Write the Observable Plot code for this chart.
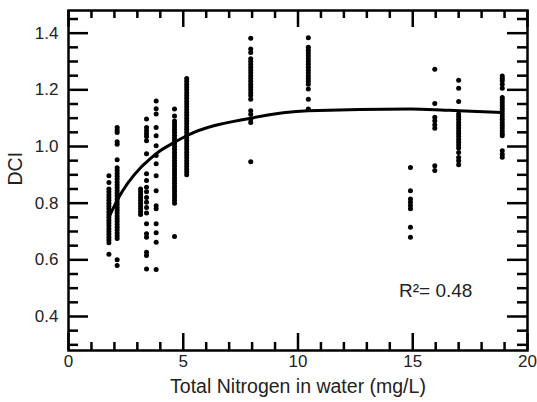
<!DOCTYPE html>
<html><head><meta charset="utf-8">
<script src="https://cdn.jsdelivr.net/npm/d3@7"></script>
<script src="https://cdn.jsdelivr.net/npm/@observablehq/plot@0.6"></script>
<style>
body{margin:0;background:#fff;}
</style></head><body><div id="chart"></div>
<script>
// Nitrogen levels (mg/L) at which DCI was sampled
const nitrogenLevels = [1.76, 2.12, 3.14, 3.4, 3.82, 4.62, 5.15, 7.94, 10.45, 14.9, 15.96, 17.0, 18.9];

const dci_1_76 = [0.897, 0.873, 0.85, 0.84, 0.83, 0.82, 0.81, 0.80, 0.79, 0.78, 0.77, 0.76, 0.75, 0.74, 0.73, 0.72, 0.71, 0.70, 0.69, 0.68, 0.67, 0.66, 0.62];
const dci_2_12 = [1.067, 1.058, 1.049, 1.017, 1.008, 0.953, 0.925, 0.915, 0.905, 0.895, 0.885, 0.875, 0.865, 0.855, 0.845, 0.835, 0.825, 0.815, 0.805, 0.795, 0.785, 0.775, 0.765, 0.755, 0.745, 0.735, 0.725, 0.715, 0.705, 0.695, 0.685, 0.675, 0.60, 0.58];
const dci_3_14 = [0.85, 0.84, 0.83, 0.82, 0.81, 0.80, 0.79, 0.78, 0.77, 0.76];
const dci_3_40 = [1.097, 1.067, 1.056, 1.045, 1.035, 1.02, 0.974, 0.904, 0.88, 0.856, 0.84, 0.82, 0.803, 0.785, 0.765, 0.727, 0.692, 0.68, 0.627, 0.615, 0.568];
const dci_3_82 = [1.161, 1.133, 1.115, 1.067, 1.038, 1.003, 0.968, 0.939, 0.897, 0.844, 0.791, 0.78, 0.727, 0.696, 0.662, 0.566];
const dci_4_62 = [1.132, 1.108, 1.09, 1.08, 1.07, 1.06, 1.05, 1.04, 1.03, 1.02, 1.01, 1.00, 0.99, 0.98, 0.97, 0.96, 0.95, 0.94, 0.93, 0.92, 0.91, 0.90, 0.89, 0.88, 0.87, 0.86, 0.85, 0.84, 0.83, 0.82, 0.81, 0.80, 0.682];
const dci_5_15 = [1.24, 1.23, 1.22, 1.21, 1.20, 1.19, 1.18, 1.17, 1.16, 1.15, 1.14, 1.13, 1.12, 1.11, 1.10, 1.09, 1.08, 1.07, 1.06, 1.05, 1.04, 1.03, 1.02, 1.01, 1.00, 0.99, 0.98, 0.97, 0.96, 0.95, 0.94, 0.93, 0.92, 0.91, 0.90];
const dci_7_94 = [1.382, 1.344, 1.332, 1.31, 1.30, 1.29, 1.28, 1.27, 1.26, 1.25, 1.24, 1.23, 1.22, 1.21, 1.20, 1.19, 1.18, 1.167, 1.126, 1.114, 1.097, 1.085, 0.946];
const dci_10_45 = [1.384, 1.35, 1.34, 1.33, 1.32, 1.31, 1.30, 1.29, 1.28, 1.27, 1.26, 1.25, 1.24, 1.23, 1.22, 1.203, 1.167, 1.132];
const dci_14_90 = [0.926, 0.844, 0.815, 0.803, 0.792, 0.78, 0.715, 0.68];
const dci_15_96 = [1.273, 1.152, 1.103, 1.091, 1.077, 1.064, 0.932, 0.915];
const dci_17_00 = [1.234, 1.206, 1.159, 1.115, 1.105, 1.095, 1.085, 1.075, 1.065, 1.055, 1.045, 1.035, 1.025, 1.015, 1.005, 0.995, 0.979, 0.961, 0.95, 0.936];
const dci_18_90 = [1.249, 1.24, 1.232, 1.22, 1.206, 1.173, 1.165, 1.155, 1.145, 1.135, 1.125, 1.115, 1.105, 1.095, 1.085, 1.075, 1.065, 1.055, 1.045, 1.038, 0.985, 0.973, 0.962];
const dciByLevel = [dci_1_76, dci_2_12, dci_3_14, dci_3_40, dci_3_82, dci_4_62, dci_5_15, dci_7_94, dci_10_45, dci_14_90, dci_15_96, dci_17_00, dci_18_90];

// Fitted curve
const fitNitrogen = [1.76, 2.12, 3.14, 3.4, 3.82, 4.62, 5.15, 7.94, 10.45, 14.9, 15.96, 17.0, 18.9];
const fitDCI = [0.75, 0.81, 0.925, 0.945, 0.975, 1.015, 1.038, 1.10, 1.126, 1.132, 1.13, 1.126, 1.12];

// Ticks
const xMajorTicks = [0, 5, 10, 15, 20];
const xMinorTicks = [1, 2, 3, 4, 6, 7, 8, 9, 11, 12, 13, 14, 16, 17, 18, 19];
const yMajorTicks = [0.4, 0.6, 0.8, 1.0, 1.2, 1.4];
const yMinorTicks = [0.3, 0.35, 0.45, 0.5, 0.55, 0.65, 0.7, 0.75, 0.85, 0.9, 0.95, 1.05, 1.1, 1.15, 1.25, 1.3, 1.35, 1.45];

const xLabel = "Total Nitrogen in water (mg/L)";
const yLabel = "DCI";
const rSquaredLabel = "R²= 0.48";

const points = nitrogenLevels.flatMap((n, i) => dciByLevel[i].map(v => ({n, v})));
const fit = fitNitrogen.map((n, i) => ({n, v: fitDCI[i]}));

const W = 537, H = 402, mL = 68, mR = 10, mT = 10, mB = 52;
const fw = W - mL - mR, fh = H - mT - mB;
const tk = {stroke: "black", strokeWidth: 2.5};

const chart = Plot.plot({
  width: W, height: H,
  marginLeft: mL, marginRight: mR, marginTop: mT, marginBottom: mB,
  style: {fontFamily: "'Liberation Sans', Arial, Helvetica, sans-serif", color: "#222", background: "#fff"},
  x: {domain: [0, 20]},
  y: {domain: [0.28, 1.48]},
  marks: [
    Plot.dot(points, {x: "n", y: "v", r: 2.5, fill: "black", stroke: "none"}),
    Plot.line(fit, {x: "n", y: "v", stroke: "black", strokeWidth: 3, curve: "monotone-x"}),
    // bottom ticks (inward)
    Plot.tickX(xMajorTicks, {x: d => d, insetTop: fh - 17, ...tk}),
    Plot.tickX(xMinorTicks, {x: d => d, insetTop: fh - 8, ...tk}),
    // top ticks (inward)
    Plot.tickX(xMajorTicks, {x: d => d, insetBottom: fh - 17, ...tk}),
    Plot.tickX(xMinorTicks, {x: d => d, insetBottom: fh - 8, ...tk}),
    // left ticks
    Plot.tickY(yMajorTicks, {y: d => d, insetRight: fw - 20, ...tk}),
    Plot.tickY(yMinorTicks, {y: d => d, insetRight: fw - 10, ...tk}),
    // right ticks
    Plot.tickY(yMajorTicks, {y: d => d, insetLeft: fw - 20, ...tk}),
    Plot.tickY(yMinorTicks, {y: d => d, insetLeft: fw - 10, ...tk}),
    Plot.frame({stroke: "black", strokeWidth: 2.5}),
    Plot.axisX({ticks: xMajorTicks, tickSize: 0, tickPadding: 4, fontSize: 17, label: null}),
    Plot.axisY({ticks: yMajorTicks, tickSize: 0, tickPadding: 10, fontSize: 17, tickFormat: d3.format(".1f"), label: null}),
    Plot.text([xLabel], {frameAnchor: "bottom", dy: 42, fontSize: 19.5, text: d => d, fill: "#222"}),
    Plot.text([yLabel], {frameAnchor: "left", rotate: -90, dx: -53, dy: 5, fontSize: 19.5, text: d => d, fill: "#222"}),
    Plot.text([rSquaredLabel], {x: 16.0, y: 0.49, fontSize: 19, text: d => d, fill: "#222"})
  ]
});
document.getElementById("chart").appendChild(chart);
</script>
</body></html>
